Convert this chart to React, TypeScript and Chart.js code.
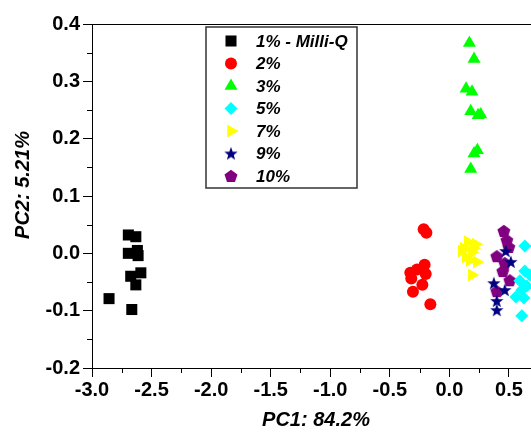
import React, { useEffect, useRef } from 'react';
import { Chart, registerables } from 'chart.js';

Chart.register(...registerables);

// ---------- data ----------
const seriesLabels = ['1% - Milli-Q', '2%', '3%', '5%', '7%', '9%', '10%'];

const milliQ: number[][] = [
  [-2.695, 0.032], [-2.632, 0.029], [-2.695, 0.0], [-2.619, 0.005], [-2.613, -0.004],
  [-2.675, -0.04], [-2.59, -0.034], [-2.632, -0.055], [-2.857, -0.079], [-2.666, -0.098],
];
const pct2: number[][] = [
  [-0.216, 0.042], [-0.193, 0.036], [-0.208, -0.02], [-0.272, -0.028], [-0.328, -0.034],
  [-0.199, -0.036], [-0.32, -0.044], [-0.227, -0.055], [-0.306, -0.067], [-0.16, -0.089],
];
const pct3: number[][] = [
  [0.168, 0.367], [0.207, 0.339], [0.14, 0.287], [0.19, 0.282], [0.179, 0.248],
  [0.241, 0.241], [0.263, 0.242], [0.235, 0.18], [0.207, 0.174], [0.179, 0.147],
];
const pct5: number[][] = [
  [0.633, 0.013], [0.633, -0.031], [0.591, -0.048], [0.65, -0.057], [0.608, -0.064],
  [0.558, -0.076], [0.625, -0.078], [0.608, -0.109], [0.675, -0.038],
];
const pct7: number[][] = [
  [0.154, 0.02], [0.221, 0.016], [0.103, 0.004], [0.188, 0.002], [0.137, -0.006],
  [0.23, -0.015], [0.171, -0.012], [0.188, -0.038], [0.12, 0.009], [0.204, 0.009],
];
const pct9: number[][] = [
  [0.473, 0.004], [0.516, -0.015], [0.373, -0.052], [0.465, -0.064], [0.398, -0.083], [0.398, -0.099],
];
const pct10: number[][] = [
  [0.457, 0.039], [0.482, 0.023], [0.499, 0.011], [0.398, -0.005], [0.465, -0.017],
  [0.448, -0.031], [0.507, -0.047], [0.398, -0.066],
];

const xTickValues = [-3.0, -2.5, -2.0, -1.5, -1.0, -0.5, 0.0, 0.5];
const yTickValues = [-0.2, -0.1, 0.0, 0.1, 0.2, 0.3, 0.4];
const xMinorValues = [-2.75, -2.25, -1.75, -1.25, -0.75, -0.25, 0.25];
const yMinorValues = [-0.15, -0.05, 0.05, 0.15, 0.25, 0.35];
const xRange = [-3.0, 0.685];
const yRange = [-0.2, 0.4];
const xTitle = 'PC1: 84.2%';
const yTitle = 'PC2: 5.21%';

// ---------- styling ----------
const FONT = '"Liberation Sans", Arial, Helvetica, sans-serif';

function makeStar(color: string, outer: number, inner: number) {
  const size = Math.ceil(outer * 2 + 2);
  const c = document.createElement('canvas');
  c.width = size; c.height = size;
  const ctx = c.getContext('2d')!;
  const cx = size / 2, cy = size / 2 + 0.5;
  ctx.beginPath();
  for (let i = 0; i < 10; i++) {
    const r = i % 2 === 0 ? outer : inner;
    const a = -Math.PI / 2 + (i * Math.PI) / 5;
    const px = cx + r * Math.cos(a), py = cy + r * Math.sin(a);
    if (i === 0) ctx.moveTo(px, py); else ctx.lineTo(px, py);
  }
  ctx.closePath();
  ctx.fillStyle = color;
  ctx.fill();
  return c;
}

function makePentagon(color: string, r: number) {
  const size = Math.ceil(r * 2 + 2);
  const c = document.createElement('canvas');
  c.width = size; c.height = size;
  const ctx = c.getContext('2d')!;
  const cx = size / 2, cy = size / 2 + 0.6;
  ctx.beginPath();
  for (let i = 0; i < 5; i++) {
    const a = -Math.PI / 2 + (i * 2 * Math.PI) / 5;
    const px = cx + r * Math.cos(a), py = cy + r * Math.sin(a);
    if (i === 0) ctx.moveTo(px, py); else ctx.lineTo(px, py);
  }
  ctx.closePath();
  ctx.fillStyle = color;
  ctx.fill();
  return c;
}

function drawMarker(ctx: CanvasRenderingContext2D, ds: any, x: number, y: number) {
  const style = ds.pointStyle;
  const r = ds.pointRadius;
  ctx.save();
  ctx.fillStyle = ds.backgroundColor;
  if (typeof style !== 'string') {
    ctx.drawImage(style, x - style.width / 2, y - style.height / 2);
    ctx.restore();
    return;
  }
  ctx.beginPath();
  if (style === 'circle') {
    ctx.arc(x, y, r, 0, Math.PI * 2);
  } else if (style === 'rect') {
    const s = Math.SQRT1_2 * r;
    ctx.rect(x - s, y - s, 2 * s, 2 * s);
  } else if (style === 'rectRot') {
    ctx.moveTo(x - r, y); ctx.lineTo(x, y - r); ctx.lineTo(x + r, y); ctx.lineTo(x, y + r);
    ctx.closePath();
  } else if (style === 'triangle') {
    let rad = ((ds.pointRotation || 0) * Math.PI) / 180;
    for (let i = 0; i < 3; i++) {
      const px = x + Math.sin(rad) * r, py = y - Math.cos(rad) * r;
      if (i === 0) ctx.moveTo(px, py); else ctx.lineTo(px, py);
      rad += (2 * Math.PI) / 3;
    }
    ctx.closePath();
  }
  ctx.fill();
  ctx.restore();
}

const legendPlugin = {
  id: 'boxLegend',
  afterDatasetsDraw(chart: any) {
    const { ctx } = chart;
    const bx = 206, by = 27, bw = 151, bh = 161;
    ctx.save();
    ctx.fillStyle = '#ffffff';
    ctx.fillRect(bx, by, bw, bh);
    ctx.strokeStyle = '#333333';
    ctx.lineWidth = 1.5;
    ctx.strokeRect(bx, by, bw, bh);
    ctx.font = `italic bold 17px ${FONT}`;
    ctx.fillStyle = '#000';
    ctx.textBaseline = 'middle';
    ctx.textAlign = 'left';
    chart.data.datasets.forEach((ds: any, i: number) => {
      const rowY = 41 + i * 22.5;
      drawMarker(ctx, ds, 231, rowY);
      ctx.fillStyle = '#000';
      ctx.fillText(ds.label, 256, rowY + 1);
    });
    ctx.restore();
  },
};

const axesDecorPlugin = {
  id: 'axesDecor',
  afterDraw(chart: any) {
    const { ctx, chartArea, scales } = chart;
    const xs = scales.x, ys = scales.y;
    ctx.save();
    ctx.strokeStyle = '#000';
    ctx.lineWidth = 1;
    ctx.beginPath();
    // top frame line
    ctx.moveTo(chartArea.left, Math.round(chartArea.top) + 0.5);
    ctx.lineTo(chartArea.right, Math.round(chartArea.top) + 0.5);
    // minor ticks
    xMinorValues.forEach((v) => {
      const px = Math.round(xs.getPixelForValue(v)) + 0.5;
      ctx.moveTo(px, chartArea.bottom);
      ctx.lineTo(px, chartArea.bottom + 5);
    });
    yMinorValues.forEach((v) => {
      const py = Math.round(ys.getPixelForValue(v)) + 0.5;
      ctx.moveTo(chartArea.left, py);
      ctx.lineTo(chartArea.left - 5, py);
    });
    ctx.stroke();

    // axis titles
    ctx.fillStyle = '#000';
    ctx.font = `italic bold 20px ${FONT}`;
    ctx.textAlign = 'center';
    ctx.textBaseline = 'middle';
    ctx.fillText(xTitle, 316, 420);
    ctx.translate(23, 185);
    ctx.rotate(-Math.PI / 2);
    ctx.fillText(yTitle, 0, 0);
    ctx.restore();
  },
};

const toPts = (arr: number[][]) => arr.map(([x, y]) => ({ x, y }));

export default function App() {
  const ref = useRef<HTMLCanvasElement>(null);

  useEffect(() => {
    if (!ref.current) return;
    const star = makeStar('#000080', 7, 2.9);
    const pent = makePentagon('#800080', 6.8);

    const mk = (label: string, data: number[][], color: string, pointStyle: any, radius: number, rotation = 0) => ({
      label,
      data: toPts(data),
      backgroundColor: color,
      borderColor: color,
      borderWidth: 0,
      pointStyle,
      pointRadius: radius,
      pointHoverRadius: radius,
      pointRotation: rotation,
      showLine: false,
    });

    const chart = new Chart(ref.current, {
      type: 'scatter',
      data: {
        datasets: [
          mk(seriesLabels[0], milliQ, '#000000', 'rect', 7.8),
          mk(seriesLabels[1], pct2, '#ff0000', 'circle', 6),
          mk(seriesLabels[2], pct3, '#00ff00', 'triangle', 7.5),
          mk(seriesLabels[3], pct5, '#00ffff', 'rectRot', 6.5),
          mk(seriesLabels[4], pct7, '#ffff00', 'triangle', 7.5, 90),
          mk(seriesLabels[5], pct9, '#000080', star, 7),
          mk(seriesLabels[6], pct10, '#800080', pent, 6.8),
        ],
      },
      options: {
        responsive: false,
        animation: false,
        layout: { autoPadding: false, padding: { left: 0, right: 0, top: 24, bottom: 0 } },
        plugins: {
          legend: { display: false },
          tooltip: { enabled: false },
        },
        scales: {
          x: {
            type: 'linear',
            min: xRange[0],
            max: xRange[1],
            afterBuildTicks: (scale: any) => {
              scale.ticks = xTickValues.map((v) => ({ value: v }));
            },
            afterFit: (scale: any) => {
              scale.height = 69;
              scale.paddingLeft = 0;
              scale.paddingRight = 0;
            },
            ticks: {
              color: '#000',
              padding: 1,
              maxRotation: 0,
              autoSkip: false,
              font: { family: FONT, size: 20, weight: 'bold' },
              callback: (v: any) => Number(v).toFixed(1),
            },
            grid: {
              display: true,
              drawOnChartArea: false,
              drawTicks: true,
              tickLength: 9,
              tickColor: '#000',
              tickWidth: 1,
            },
            border: { display: true, color: '#000', width: 1 },
            title: { display: false },
          },
          y: {
            type: 'linear',
            min: yRange[0],
            max: yRange[1],
            afterBuildTicks: (scale: any) => {
              scale.ticks = yTickValues.map((v) => ({ value: v }));
            },
            afterFit: (scale: any) => {
              scale.width = 92;
              scale.paddingTop = 0;
              scale.paddingBottom = 0;
            },
            ticks: {
              color: '#000',
              padding: 3,
              autoSkip: false,
              font: { family: FONT, size: 20, weight: 'bold' },
              callback: (v: any) => Number(v).toFixed(1),
            },
            grid: {
              display: true,
              drawOnChartArea: false,
              drawTicks: true,
              tickLength: 9,
              tickColor: '#000',
              tickWidth: 1,
            },
            border: { display: true, color: '#000', width: 1 },
            title: { display: false },
          },
        },
      },
      plugins: [axesDecorPlugin, legendPlugin],
    } as any);

    return () => chart.destroy();
  }, []);

  return (
    <div style={{ position: 'absolute', left: 0, top: 0, width: 531, height: 437, background: '#fff' }}>
      <canvas ref={ref} width={531} height={437} style={{ display: 'block', width: 531, height: 437 }} />
    </div>
  );
}
